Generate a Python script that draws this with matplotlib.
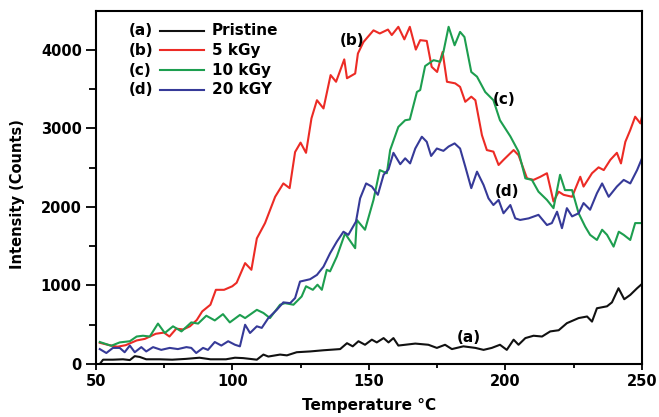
import numpy
from matplotlib import pyplot as plt

# (a) pristine
temp_a = [51.5, 52.7, 56.3, 60, 62.5, 64.3, 66.1, 68.5, 73.4, 78,
          83, 88, 92, 97.7, 101, 104, 109, 111.4, 113.2, 117.5,
          120, 123.6, 128.5, 133.4, 139.5, 142, 144.1, 146.2, 148.6, 151.1,
          152.9, 155.4, 157.2, 159, 160.8, 167, 171.8, 174.9, 177.9, 180.4,
          184.6, 189, 192, 195, 198, 200.5, 203, 204.8, 207.3, 210.3,
          213.4, 216.4, 219.5, 222.5, 226.8, 229.9, 231.7, 233.5, 237.2, 239,
          241.4, 243.5, 245.7, 248.2, 250]
counts_a = [0, 55, 55, 60, 50, 100, 90, 60, 60, 55,
            65, 80, 60, 60, 80, 75, 55, 120, 95, 120,
            110, 150, 160, 175, 190, 265, 225, 290, 245, 310,
            275, 330, 275, 330, 235, 260, 245, 205, 245, 190,
            225, 205, 180, 205, 245, 180, 310, 245, 330, 360,
            350, 415, 430, 520, 585, 605, 540, 710, 735, 785,
            965, 825, 880, 965, 1020]

# (b) 5 kGy
temp_b = [51.5, 55, 58, 61, 65, 68, 72, 75, 77, 79.5,
          82, 84.5, 87, 89, 92, 94, 97, 100, 101.6, 104.7,
          107, 109, 112, 115.7, 118.7, 121, 123, 125, 127, 129,
          131, 133.4, 136, 138, 141, 142, 145, 146, 148, 151.7,
          154, 157, 158.4, 160.8, 163, 165, 167.2, 168.8, 171.2, 173,
          175, 177, 178.6, 181.6, 183.4, 185.3, 187.5, 189, 191.4, 193.2,
          195.6, 197.5, 199.3, 201.8, 203, 204.8, 207.9, 210.3, 212.8, 215.2,
          217.6, 219.5, 221.3, 224.4, 227.4, 228.6, 231.7, 234.1, 236, 238.4,
          240.8, 242.3, 243.9, 245.7, 247.5, 249.4, 250]
counts_b = [270, 240, 220, 240, 300, 320, 385, 400, 350, 450,
            440, 480, 560, 670, 755, 945, 945, 990, 1035, 1285,
            1200, 1600, 1795, 2130, 2300, 2240, 2700, 2820, 2690, 3130,
            3360, 3255, 3680, 3595, 3880, 3640, 3700, 3955, 4100, 4250,
            4210, 4260, 4190, 4295, 4135, 4295, 4005, 4125, 4115, 3785,
            3720, 3975, 3595, 3575, 3530, 3340, 3405, 3360, 2915, 2725,
            2705, 2535, 2600, 2685, 2725, 2660, 2365, 2345, 2385, 2430,
            2070, 2195, 2155, 2130, 2385, 2260, 2430, 2505, 2470, 2600,
            2690, 2555, 2830, 2980, 3150, 3065, 3150]

# (c) 10 kGy
temp_c = [51.5, 55.7, 58.8, 62.5, 65, 67.3, 69.8, 72.8, 75.3, 78.3,
          81.4, 85, 87.5, 90.5, 93.6, 96.6, 99.1, 102.8, 104.7, 109,
          111.4, 113.8, 117.5, 119.3, 122.4, 125.4, 127, 129.5, 131.2, 132.8,
          134.6, 135.8, 138.3, 141.3, 142.5, 145, 145.6, 148.6, 151.7, 154,
          156.6, 157.8, 160.8, 163.3, 165, 167.6, 168.8, 170.6, 173.7, 176.1,
          177.3, 179.2, 181.4, 183.4, 185, 187.5, 189.6, 192.6, 195.6, 198,
          201.8, 204.8, 207.3, 209.7, 212.1, 215.2, 217.6, 220, 221.8, 224.4,
          226.8, 229.2, 231, 233.5, 235.4, 237.2, 239.6, 241.5, 243.3, 245.7,
          247.5, 250]
counts_c = [280, 232, 275, 290, 350, 360, 350, 515, 395, 480,
            415, 530, 515, 615, 555, 635, 530, 625, 585, 690,
            650, 585, 755, 775, 755, 860, 990, 945, 1010, 945,
            1200, 1180, 1370, 1665, 1600, 1475, 1835, 1710, 2090, 2470,
            2430, 2725, 3020, 3105, 3115, 3465, 3490, 3795, 3870, 3850,
            3975, 4295, 4060, 4230, 4165, 3720, 3660, 3465, 3360, 3105,
            2900, 2705, 2365, 2345, 2195, 2090, 1985, 2410, 2215, 2215,
            1920, 1750, 1645, 1580, 1710, 1645, 1495, 1685, 1645, 1580,
            1795, 1795]

# (d) 20 kGY
temp_d = [51.5, 53.9, 56.3, 58.8, 60.6, 62.5, 64.3, 66.7, 68.5, 71,
          74, 77.1, 80.1, 83.2, 85, 86.8, 89.3, 91.1, 93.6, 96,
          98.5, 101, 102.8, 104.7, 106.5, 109, 110.8, 113.2, 116.3, 118.7,
          121.2, 123, 124.8, 128.5, 131, 133.4, 135.8, 138.3, 140.7, 142.5,
          145.3, 146.8, 149, 151.1, 153.3, 155.4, 157.2, 159, 161.5, 163.3,
          165.1, 167, 169.4, 171.2, 172.8, 174.9, 177.3, 179.2, 181.4, 183.4,
          185.3, 187.5, 189.6, 192, 193.8, 195.6, 197.5, 199.3, 201.8, 203.6,
          205.4, 208.5, 212.1, 215.2, 217, 218.9, 220.7, 222.5, 224.4, 226.8,
          228.6, 231, 233.5, 235.4, 237.8, 240.8, 243.3, 245.7, 248.2, 250]
counts_d = [190, 140, 205, 205, 150, 235, 150, 215, 160, 215,
            180, 205, 190, 215, 205, 140, 205, 180, 280, 235,
            290, 245, 225, 500, 395, 480, 460, 585, 690, 785,
            775, 840, 1050, 1080, 1135, 1240, 1410, 1560, 1685, 1645,
            1815, 2110, 2300, 2260, 2155, 2410, 2480, 2690, 2545, 2620,
            2555, 2745, 2895, 2830, 2650, 2745, 2715, 2770, 2810, 2745,
            2515, 2240, 2450, 2280, 2110, 2025, 2090, 1920, 2025, 1855,
            1835, 1855, 1900, 1770, 1795, 1940, 1730, 1985, 1880, 1920,
            2050, 1965, 2175, 2300, 2130, 2260, 2345, 2300, 2470, 2620]

tags = ['(a)', '(b)', '(c)', '(d)']
names = ['Pristine', '5 kGy', '10 kGy', '20 kGY']
colors = ['#111111', '#ec2b25', '#1d9e4f', '#363a98']

# where the (a)..(d) tags sit next to the curves (temperature, counts)
tag_x = [186.5, 144, 199.5, 200.5]
tag_y = [335, 4115, 3370, 2195]


def plot_curves(ax):
    series = [(temp_a, counts_a), (temp_b, counts_b),
              (temp_c, counts_c), (temp_d, counts_d)]
    for (t, c), col in zip(series, colors):
        ax.plot(t, c, color=col, lw=1.5)


def draw_legend(ax):
    # legend is "(a) ---- Pristine", tag in front of the line
    rows = [0.944, 0.888, 0.831, 0.776]
    for tag, name, col, yy in zip(tags, names, colors, rows):
        ax.text(0.061, yy, tag, transform=ax.transAxes, fontsize=11,
                fontweight='bold', va='center', ha='left')
        ax.plot([0.118, 0.198], [yy, yy], transform=ax.transAxes,
                color=col, lw=1.5)
        ax.text(0.213, yy, name, transform=ax.transAxes, fontsize=11,
                fontweight='bold', va='center', ha='left')


def main():
    fig = plt.figure(figsize=(6.59, 4.17), dpi=100)
    ax = fig.add_axes([0.1452, 0.1271, 0.829, 0.8472])

    plot_curves(ax)
    draw_legend(ax)
    for tag, x, y in zip(tags, tag_x, tag_y):
        ax.text(x, y, tag, fontsize=11, fontweight='bold',
                ha='center', va='center')

    ax.set_xlim(50, 250)
    ax.set_ylim(0, 4500)
    ax.set_xticks([50, 100, 150, 200, 250])
    ax.set_xticks([75, 125, 175, 225], minor=True)
    ax.set_yticks([0, 1000, 2000, 3000, 4000])
    ax.set_yticks([500, 1500, 2500, 3500], minor=True)

    for s in ax.spines.values():
        s.set_linewidth(1.5)
    ax.tick_params(axis='x', which='major', direction='out', length=4.5,
                   width=1.3, labelsize=10.5, pad=3)
    ax.tick_params(axis='x', which='minor', direction='out', length=3,
                   width=1.3)
    ax.tick_params(axis='y', which='major', direction='out', length=7,
                   width=1.3, labelsize=10.5, pad=3)
    ax.tick_params(axis='y', which='minor', direction='out', length=5,
                   width=1.3)
    for lab in ax.get_xticklabels() + ax.get_yticklabels():
        lab.set_fontweight('bold')

    ax.set_xlabel('Temperature \u00b0C', fontsize=11, fontweight='bold',
                  labelpad=6)
    ax.set_ylabel('Intensity (Counts)', fontsize=10.5, fontweight='bold')
    ax.yaxis.set_label_coords(-0.13, 0.48)

    fig.savefig('out.png', dpi=100)


if __name__ == "__main__":
    main()
